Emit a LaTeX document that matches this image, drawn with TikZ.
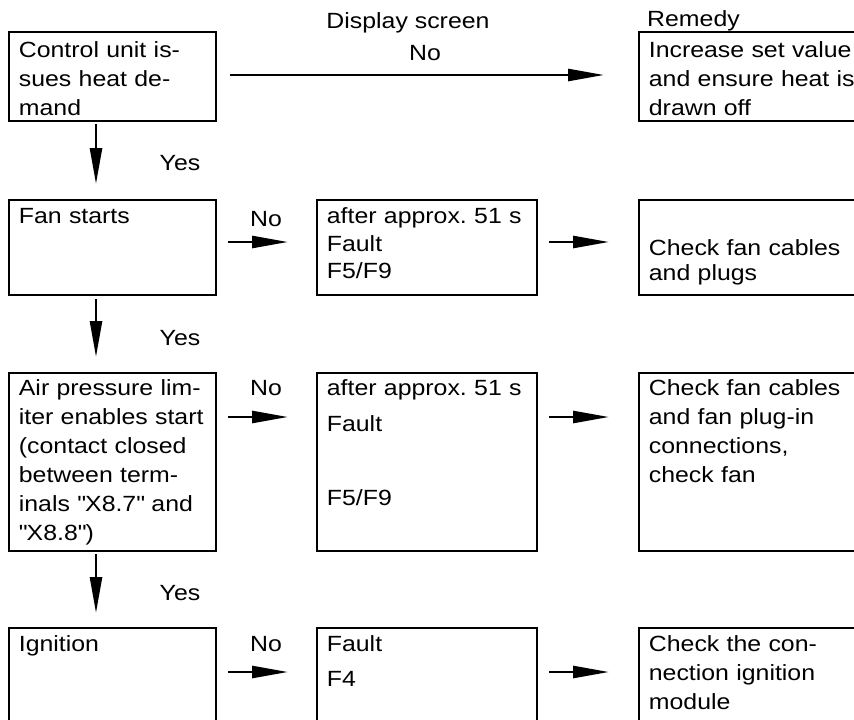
\documentclass[tikz,border=0pt]{standalone}
\usepackage{fontspec}
\setmainfont{Liberation Sans}[FakeStretch=1.13]
\usetikzlibrary{arrows.meta}

\begin{document}
\begin{tikzpicture}[x=1pt, y=-1pt, >={Triangle[length=36pt, width=12pt]},
  font=\fontsize{22}{29}\selectfont,
  box/.style={draw, line width=1.8pt, anchor=north west, align=left,
    inner xsep=10pt, inner ysep=0pt, text height=24pt},
  leftbox/.style={box, text width=187pt},
  midbox/.style={box, text width=200pt},
  rightbox/.style={box, text width=212pt},
  arr/.style={->, line width=2.6pt},
  lbl/.style={anchor=base, inner sep=0pt}]
\useasboundingbox (0,0) rectangle (854,720);
\clip (0,0) rectangle (854,720);

% Column headings
\node[lbl] (hdisp) at (408,28) {Display screen};
\node[lbl, anchor=base west] (hrem) at (647,26) {Remedy};

% Row 1: heat demand
\node[leftbox, text height=26pt, text depth=63pt] (ctrl) at (8,31) {Control unit is-\\sues heat de-\\mand};
\node[rightbox, text height=26pt, text depth=63pt] (rem1) at (638,31) {Increase set value\\and ensure heat is\\drawn off};
\draw[arr, shorten <=13pt, shorten >=34pt] ([yshift=-44pt]ctrl.north east) -- ([yshift=-44pt]rem1.north west);
\node[lbl] (no1) at (425,60) {No};

% Row 2: fan
\node[leftbox, text depth=71pt] (fan) at (8,199) {Fan starts};
\node[midbox, text depth=71pt] (fanmsg) at (316,199) {after approx.\ 51 s\\[-1.5pt]Fault\\[-1.5pt]F5/F9};
\node[rightbox, text height=56pt, text depth=39pt] (rem2) at (638,199) {Check fan cables\\[-4pt]and plugs};
\draw[arr, shorten <=11pt, shorten >=28pt] ([yshift=-43pt]fan.north east) -- ([yshift=-43pt]fanmsg.north west);
\draw[arr, shorten <=11pt, shorten >=29pt] ([yshift=-43pt]fanmsg.north east) -- ([yshift=-43pt]rem2.north west);
\node[lbl] (no2) at (266,226) {No};

% Row 3: air pressure limiter
\node[leftbox, text height=23pt, text depth=155pt] (air) at (8,372) {Air pressure lim-\\iter enables start\\(contact closed\\between term-\\inals \textquotedbl X8.7\textquotedbl{} and\\\textquotedbl X8.8\textquotedbl)};
\node[midbox, text height=23pt, text depth=155pt] (airmsg) at (316,372) {after approx.\ 51 s\\[7pt]Fault\\[45pt]F5/F9};
\node[rightbox, text height=23pt, text depth=155pt] (rem3) at (638,372) {Check fan cables\\and fan plug-in\\connections,\\check fan};
\draw[arr, shorten <=11pt, shorten >=28pt] ([yshift=-45pt]air.north east) -- ([yshift=-45pt]airmsg.north west);
\draw[arr, shorten <=11pt, shorten >=29pt] ([yshift=-45pt]airmsg.north east) -- ([yshift=-45pt]rem3.north west);
\node[lbl] (no3) at (266,395) {No};

% Row 4: ignition
\node[leftbox, text depth=96pt] (ign) at (8,627) {Ignition};
\node[midbox, text depth=96pt] (ignmsg) at (316,627) {Fault\\[6pt]F4};
\node[rightbox, text depth=96pt] (rem4) at (638,627) {Check the con-\\nection ignition\\module};
\draw[arr, shorten <=11pt, shorten >=28pt] ([yshift=-45pt]ign.north east) -- ([yshift=-45pt]ignmsg.north west);
\draw[arr, shorten <=11pt, shorten >=29pt] ([yshift=-45pt]ignmsg.north east) -- ([yshift=-45pt]rem4.north west);
\node[lbl] (no4) at (266,651) {No};

% Yes branches
\draw[arr, shorten <=2pt, shorten >=15pt] ([xshift=88pt]ctrl.south west) -- ([xshift=88pt]fan.north west);
\draw[arr, shorten <=3pt, shorten >=15pt] ([xshift=88pt]fan.south west) -- ([xshift=88pt]air.north west);
\draw[arr, shorten <=2pt, shorten >=14pt] ([xshift=88pt]air.south west) -- ([xshift=88pt]ign.north west);
\node[lbl] (yes1) at (180,170) {Yes};
\node[lbl] (yes2) at (180,345) {Yes};
\node[lbl] (yes3) at (180,600) {Yes};
\end{tikzpicture}
\end{document}
